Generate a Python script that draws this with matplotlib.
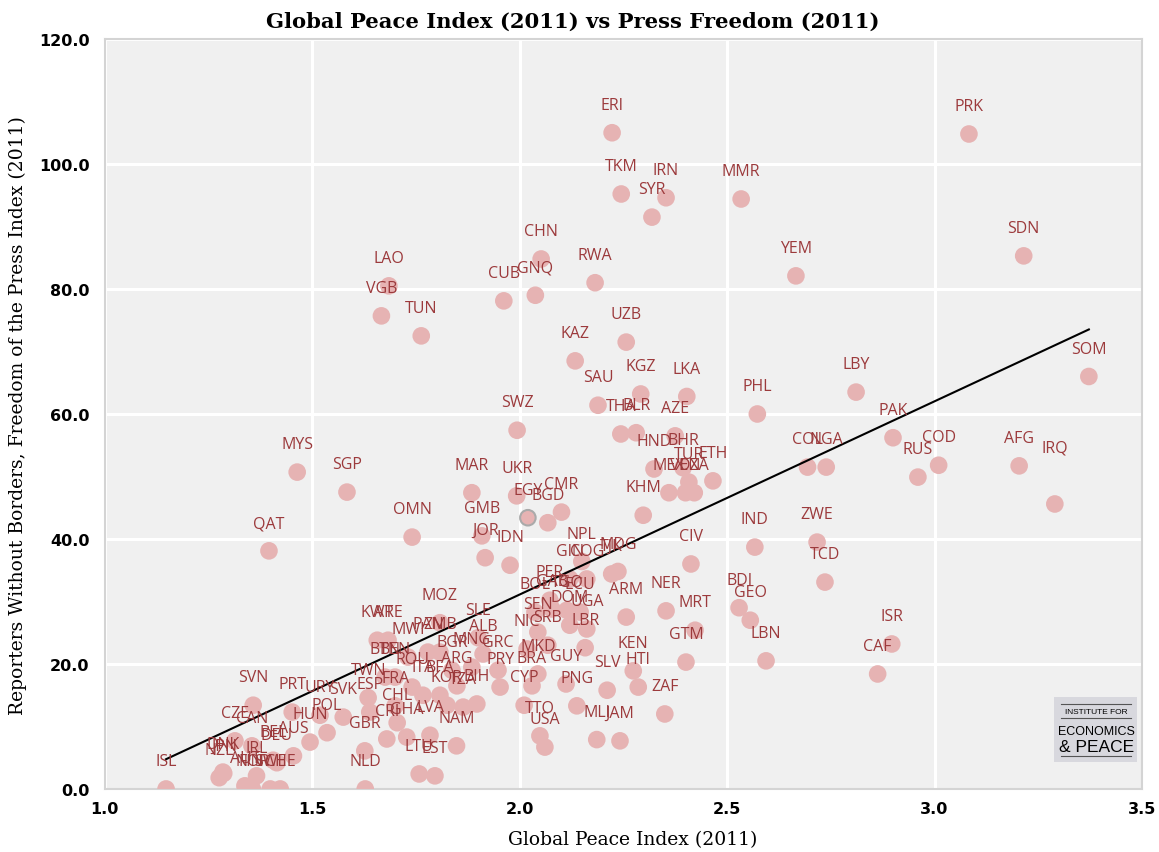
import numpy as np
import matplotlib
matplotlib.use("Agg")
from matplotlib import pyplot as plt
from matplotlib.patches import Rectangle
from matplotlib.lines import Line2D

# Global Peace Index 2011 vs RSF press freedom score
codes = ["ISL", "NZL", "DNK", "JPN", "CZE", "AUT", "FIN", "CAN", "NOR", "SVN",
         "IRL", "QAT", "SWE", "BEL", "DEU", "CHE", "PRT", "AUS", "MYS", "HUN",
         "URY", "POL", "SVK", "SGP", "NLD", "GBR", "TWN", "ESP", "KWT", "VGB",
         "CRI", "BTN", "LAO", "ARE", "FRA", "BEN", "CHL", "GHA", "MWI", "ROU",
         "OMN", "LTU", "TUN", "ITA", "PAN", "LVA", "EST", "MOZ", "ZMB", "BFA",
         "KOR", "BGR", "NAM", "ARG", "TZA", "MAR", "MNG", "BIH", "SLE", "GMB",
         "ALB", "JOR", "GRC", "PRY", "CUB", "IDN", "UKR", "SWZ", "CYP", "NIC",
         "EGY", "BRA", "BOL", "GNQ", "SEN", "MKD", "TTO", "CHN", "USA", "SRB",
         "BGD", "PER", "GAB", "CMR", "GUY", "TGO", "DOM", "GIN", "KAZ", "PNG",
         "ECU", "NPL", "LBR", "UGA", "COG", "RWA", "MLI", "SAU", "SLV", "TJK",
         "ERI", "MDG", "JAM", "THA", "TKM", "ARM", "UZB", "KEN", "BLR", "HTI",
         "KGZ", "KHM", "SYR", "HND", "ZAF", "IRN", "NER", "MEX", "AZE", "BHR",
         "VEN", "GTM", "LKA", "TUR", "CIV", "DZA", "MRT", "ETH", "BDI", "MMR",
         "GEO", "IND", "PHL", "LBN", "YEM", "COL", "ZWE", "TCD", "NGA", "LBY",
         "CAF", "ISR", "PAK", "RUS", "COD", "PRK", "AFG", "SDN", "IRQ", "SOM"]

gpi = [1.148, 1.276, 1.285, 1.287, 1.314, 1.338, 1.352, 1.355, 1.356, 1.358,
       1.366, 1.396, 1.399, 1.406, 1.415, 1.423, 1.452, 1.455, 1.464, 1.495,
       1.519, 1.536, 1.575, 1.584, 1.628, 1.627, 1.635, 1.639, 1.657, 1.667,
       1.680, 1.676, 1.685, 1.683, 1.700, 1.700, 1.705, 1.728, 1.731, 1.741,
       1.741, 1.758, 1.763, 1.767, 1.779, 1.784, 1.796, 1.808, 1.808, 1.808,
       1.825, 1.837, 1.848, 1.849, 1.864, 1.885, 1.885, 1.897, 1.900, 1.909,
       1.912, 1.917, 1.948, 1.953, 1.962, 1.977, 1.993, 1.994, 2.011, 2.018,
       2.020, 2.030, 2.037, 2.038, 2.044, 2.044, 2.049, 2.052, 2.061, 2.068,
       2.068, 2.073, 2.078, 2.101, 2.112, 2.114, 2.121, 2.121, 2.134, 2.138,
       2.146, 2.150, 2.158, 2.162, 2.162, 2.182, 2.186, 2.189, 2.211, 2.222,
       2.223, 2.237, 2.242, 2.244, 2.245, 2.257, 2.257, 2.274, 2.281, 2.286,
       2.292, 2.298, 2.319, 2.324, 2.350, 2.353, 2.353, 2.360, 2.375, 2.394,
       2.400, 2.401, 2.403, 2.408, 2.413, 2.421, 2.423, 2.466, 2.529, 2.534,
       2.556, 2.567, 2.573, 2.594, 2.666, 2.694, 2.717, 2.736, 2.739, 2.811,
       2.863, 2.897, 2.900, 2.960, 3.010, 3.083, 3.204, 3.215, 3.290, 3.372]

press = [0.0, 1.8, 2.7, 2.5, 7.7, 0.5, 0.0, 6.9, 0.0, 13.4,
         2.1, 38.1, 0.0, 4.6, 4.2, 0.0, 12.3, 5.3, 50.7, 7.5,
         11.8, 9.0, 11.5, 47.5, 0.0, 6.1, 14.6, 12.3, 23.8, 75.7,
         8.0, 17.9, 80.5, 23.8, 13.3, 17.9, 10.6, 8.3, 21.1, 16.3,
         40.3, 2.4, 72.5, 15.0, 21.9, 8.6, 2.1, 26.6, 21.9, 15.0,
         13.4, 19.0, 6.9, 16.5, 13.1, 47.4, 19.5, 13.6, 24.2, 40.5,
         21.6, 37.0, 19.0, 16.3, 78.1, 35.8, 46.9, 57.4, 13.4, 22.4,
         43.4, 16.5, 28.3, 79.0, 25.1, 18.4, 8.5, 84.8, 6.7, 23.0,
         42.6, 30.2, 28.8, 44.3, 16.8, 28.6, 26.2, 33.6, 68.5, 13.3,
         28.3, 36.4, 22.6, 25.6, 33.6, 81.0, 7.9, 61.4, 15.8, 34.4,
         105.0, 34.8, 7.7, 56.8, 95.2, 27.5, 71.5, 18.9, 57.0, 16.3,
         63.2, 43.8, 91.5, 51.2, 12.0, 94.6, 28.5, 47.4, 56.5, 51.4,
         47.4, 20.3, 62.8, 49.1, 36.0, 47.4, 25.4, 49.3, 29.0, 94.4,
         27.0, 38.7, 60.0, 20.5, 82.1, 51.5, 39.5, 33.1, 51.5, 63.5,
         18.4, 23.2, 56.2, 49.9, 51.8, 104.8, 51.7, 85.3, 45.6, 66.0]

highlight = "EGY"
label_raise = {"IRQ": 41}

x_ticks = [1.0, 1.5, 2.0, 2.5, 3.0, 3.5]
y_ticks = [0, 20, 40, 60, 80, 100, 120]

point_col = "#e6b3b3"
text_col = "#9c3a3c"

fig = plt.figure(figsize=(11.59, 8.53), dpi=100)
ax = fig.add_axes([0.0903, 0.0739, 0.8950, 0.8792])
ax.set_facecolor("#f0f0f0")

x = np.array(gpi)
y = np.array(press)

edges = ["#aaaaaa" if c == highlight else point_col for c in codes]
ax.scatter(x, y, s=125, c=point_col, edgecolors=edges, linewidths=1.5, zorder=3)

# linear trend
k, b = np.polyfit(x, y, 1)
xs = np.array([x.min(), x.max()])
ax.plot(xs, k * xs + b, color="black", lw=1.5, zorder=4)

for c, xi, yi in zip(codes, x, y):
    ax.annotate(c, (xi, yi), xytext=(0, label_raise.get(c, 20)), textcoords="offset points",
                ha="center", va="center", fontsize=11.5, family="Open Sans",
                color=text_col, zorder=5)

ax.set_xlim(1.0, 3.5)
ax.set_ylim(0, 120)
ax.set_xticks(x_ticks)
ax.set_yticks(y_ticks)
ax.set_xticklabels(["%.1f" % v for v in x_ticks], fontweight="bold", fontsize=11.5)
ax.set_yticklabels(["%.1f" % v for v in y_ticks], fontweight="bold", fontsize=11.5)
ax.tick_params(axis="y", length=0, pad=11)
ax.tick_params(axis="x", length=0, pad=9)
ax.grid(color="white", lw=2.2, zorder=0)
ax.set_axisbelow(True)
for s in ax.spines.values():
    s.set_color("#d4d4d4")
    s.set_linewidth(1.5)

fig.text(0.494, 0.975, "Global Peace Index (2011) vs Press Freedom (2011)",
         ha="center", va="center", family="DejaVu Serif", fontweight="bold", fontsize=15.2)
fig.text(0.546, 0.015, "Global Peace Index (2011)", ha="center", va="center",
         family="DejaVu Serif", fontsize=13.5)
fig.text(0.0155, 0.513, "Reporters Without Borders, Freedom of the Press Index (2011)",
         ha="center", va="center", rotation=90, family="DejaVu Serif", fontsize=13.5)

# IEP logo box
fig.patches.append(Rectangle((0.9094, 0.1055), 0.0716, 0.0762, transform=fig.transFigure,
                             facecolor="#d8d8de", edgecolor="none", zorder=6))
for ly in [0.1735, 0.1570, 0.1125]:
    fig.lines.append(Line2D([0.9154, 0.9760], [ly, ly], transform=fig.transFigure,
                            color="#555555", lw=0.8, zorder=7))
fig.text(0.9457, 0.1650, "INSTITUTE FOR", ha="center", va="center", fontsize=6,
         family="Liberation Sans", zorder=8)
fig.text(0.9457, 0.1420, "ECONOMICS", ha="center", va="center", fontsize=9,
         family="Liberation Sans", zorder=8)
fig.text(0.9457, 0.1240, "& PEACE", ha="center", va="center", fontsize=12.5,
         family="Liberation Sans", zorder=8)

fig.savefig("out.png", dpi=100)
